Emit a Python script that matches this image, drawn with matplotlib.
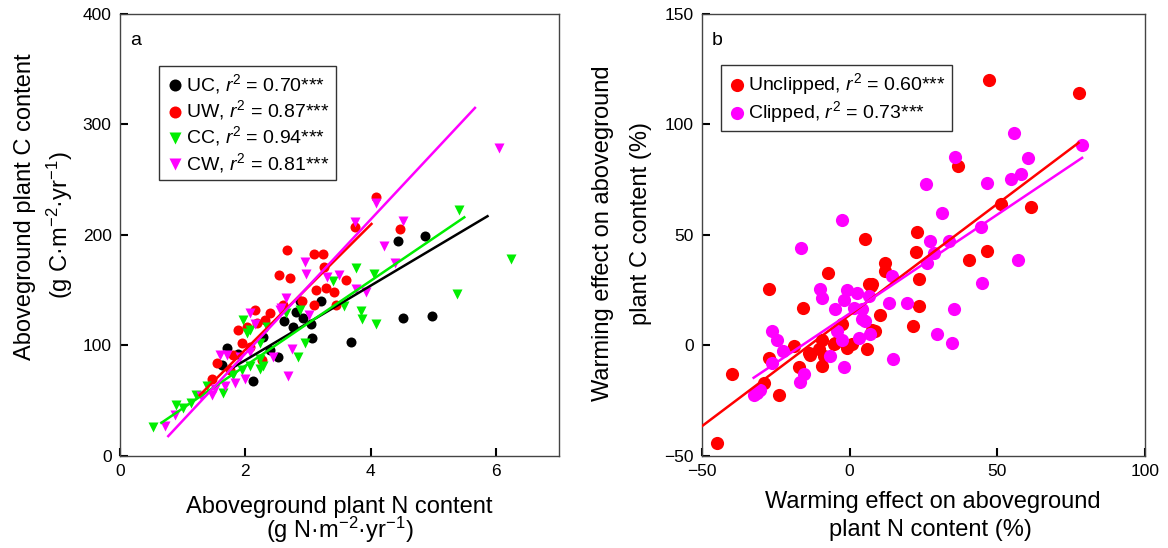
import matplotlib.pyplot as plt
import numpy as np

plt.rcParams['font.family'] = ['Liberation Sans', 'DejaVu Sans']
plt.rcParams['mathtext.fontset'] = 'custom'
plt.rcParams['mathtext.rm'] = 'Liberation Sans'
plt.rcParams['mathtext.it'] = 'Liberation Sans:italic'

# panel a: aboveground N vs C content
uc_x = [1.62, 1.70, 1.88, 2.12, 2.28, 2.40, 2.52, 2.62, 2.76, 2.80, 2.87, 2.92, 3.05, 3.06, 3.20, 3.69, 4.44, 4.51, 4.87, 4.98]
uc_y = [82, 98, 92, 68, 108, 96, 90, 122, 117, 130, 140, 125, 119, 107, 140, 103, 195, 125, 199, 127]

uw_x = [1.46, 1.54, 1.75, 1.80, 1.88, 1.94, 2.02, 2.07, 2.15, 2.18, 2.26, 2.31, 2.39, 2.54, 2.60,
        2.67, 2.71, 2.90, 3.09, 3.24, 3.26, 3.13, 3.28, 3.42, 3.09, 3.45, 3.61, 3.74, 4.09, 4.47]
uw_y = [70, 84, 78, 91, 114, 102, 117, 99, 132, 120, 87, 123, 129, 164, 137,
        186, 161, 140, 183, 183, 171, 150, 152, 148, 137, 137, 159, 207, 234, 205]

cc_x = [0.53, 0.90, 1.01, 1.14, 1.22, 1.38, 1.65, 1.80, 1.94, 1.96, 2.02, 2.07, 2.07, 2.23, 2.23, 2.23,
        2.28, 2.34, 2.65, 2.84, 2.87, 2.95, 3.40, 3.58, 3.77, 3.85, 3.86, 4.05, 4.08, 5.37, 5.41, 6.23]
cc_y = [26, 46, 43, 48, 55, 63, 57, 73, 78, 123, 111, 81, 114, 79, 102, 88,
        81, 117, 129, 90, 132, 102, 158, 136, 170, 131, 124, 165, 119, 147, 223, 178]

cw_x = [0.72, 0.88, 1.30, 1.46, 1.51, 1.59, 1.67, 1.70, 1.83, 1.91, 1.99, 2.07, 2.07, 2.15, 2.44, 2.55, 2.57,
        2.65, 2.68, 2.75, 2.95, 2.97, 3.01, 3.30, 3.49, 3.74, 3.77, 3.93, 4.09, 4.21, 4.39, 4.51, 6.05]
cw_y = [27, 37, 54, 55, 61, 91, 63, 91, 66, 90, 70, 129, 94, 119, 90, 132, 134,
        143, 72, 97, 176, 165, 128, 162, 164, 212, 151, 148, 229, 190, 175, 213, 279]

# fitted lines (end points)
uc_fit_x, uc_fit_y = [1.80, 5.86], [80, 217]
uw_fit_x, uw_fit_y = [1.27, 4.01], [55, 210]
cc_fit_x, cc_fit_y = [0.66, 5.49], [30, 216]
cw_fit_x, cw_fit_y = [0.77, 5.66], [18, 315]

# panel b: warming effects (%)
unc_x = [47.1, 77.5, 36.7, 61.5, 51.4, 5.3, 22.8, 22.6, 46.5, 40.3, 11.9, 12.1, 23.4, 7.6,
         -27.4, -7.4, -15.9, 7.3, 23.4, 21.4, 10.4, 8.7, 5.9, -0.9, -9.4, -10.5, -13.3, -8.8,
         -9.4, -19.0, -27.4, -17.3, -29.1, -24.0, -39.9, -4.8, -2.6, -44.9, 6.4, 7.6, -5.4, 0.8, -13.9]
unc_y = [120, 114.3, 81.4, 62.6, 63.8, 48, 51.3, 42.2, 42.7, 38.9, 37.4, 33.6, 29.9, 27.6,
         25.6, 32.6, 17, 26.8, 17.8, 8.7, 14, 6.5, -1.8, -1.1, 2.7, -1.8, -4.1, -4.8,
         -9.4, -0.3, -5.6, -9.6, -16.9, -22.2, -13.1, 1.2, 9.5, -44, 27.6, 7.2, 0.5, 0.5, -3.3]

clp_x = [55.5, 78.7, 35.8, 60.4, 58.1, 54.8, 46.5, 25.8, 31.3, -2.6, 44.6, 27.3, 33.5, 28.4, 26.2,
         56.9, 44.8, 14.3, -16.4, -9.9, -9.4, -0.9, 2.5, -2.0, 6.4, -4.8, 1.4, 4.2, 13.2, 19.4,
         -26.3, -24.6, -22.4, -26.3, -15.6, -16.7, -31.4, -6.5, -2.0, -2.6, 3.0, 7.0, 14.7,
         4.2, -4.3, 35.2, 29.6, 34.7, -32.5, -30.2, 5.3]
clp_y = [96.2, 90.5, 85.4, 84.9, 77.8, 75.4, 73.6, 73.2, 60, 56.7, 53.5, 47.5, 47.2, 41.9, 37.1,
         38.6, 28.4, 31.4, 44.2, 25.6, 21.6, 25.3, 23.8, 20.8, 22.3, 16.3, 17, 16.3, 19.3, 19.3,
         6.5, 2.7, -2.6, -7.8, -13.1, -16.6, -21.4, -4.8, -9.7, 2.7, 3.5, 5.4, -6,
         11.8, 6.5, 16.3, 5.4, 1.2, -22.2, -20, 11]

unc_fit_x, unc_fit_y = [-50, 77.5], [-36.5, 91.7]
clp_fit_x, clp_fit_y = [-32.5, 78.7], [-14.6, 84.9]

RED = '#ff0000'
GREEN = '#00ee00'
MAG = '#ff00ff'
LAB = 17

fig = plt.figure(figsize=(11.68, 5.48), dpi=100)
ax1 = fig.add_axes([0.1027, 0.1679, 0.3759, 0.8066])
ax2 = fig.add_axes([0.601, 0.1679, 0.3793, 0.8066])

ms = 52
ax1.scatter(uc_x, uc_y, s=ms, c='black', marker='o', lw=0, label='UC, $r^2$ = 0.70***', zorder=3)
ax1.scatter(uw_x, uw_y, s=ms, c=RED, marker='o', lw=0, label='UW, $r^2$ = 0.87***', zorder=3)
ax1.scatter(cc_x, cc_y, s=ms, c=GREEN, marker='v', lw=0, label='CC, $r^2$ = 0.94***', zorder=3)
ax1.scatter(cw_x, cw_y, s=ms, c=MAG, marker='v', lw=0, label='CW, $r^2$ = 0.81***', zorder=3)
ax1.plot(uc_fit_x, uc_fit_y, color='black', lw=1.8, zorder=4)
ax1.plot(cc_fit_x, cc_fit_y, color=GREEN, lw=1.8, zorder=4)
ax1.plot(uw_fit_x, uw_fit_y, color=RED, lw=1.8, zorder=4)
ax1.plot(cw_fit_x, cw_fit_y, color=MAG, lw=1.8, zorder=4)

ax1.set_xlim(0, 7)
ax1.set_ylim(0, 400)
ax1.set_xticks([0, 2, 4, 6])
ax1.set_yticks([0, 100, 200, 300, 400])
ax1.text(0.5, -0.115, 'Aboveground plant N content', transform=ax1.transAxes,
         fontsize=LAB, ha='center', va='center')
ax1.text(0.5, -0.168, '(g N·m$^{-2}$·yr$^{-1}$)', transform=ax1.transAxes,
         fontsize=LAB, ha='center', va='center')
ax1.text(-0.216, 0.565, 'Aboveground plant C content', transform=ax1.transAxes,
         fontsize=LAB, ha='center', va='center', rotation=90)
ax1.text(-0.137, 0.523, '(g C·m$^{-2}$·yr$^{-1}$)', transform=ax1.transAxes,
         fontsize=LAB, ha='center', va='center', rotation=90)
ax1.text(0.023, 0.94, 'a', transform=ax1.transAxes, fontsize=14, va='center')
leg1 = ax1.legend(loc='upper left', bbox_to_anchor=(0.089, 0.882), fontsize=14, handletextpad=0.1,
                  handlelength=1.0, borderpad=0.3, labelspacing=0.12, fancybox=False,
                  edgecolor='#333333', framealpha=1, borderaxespad=0, markerscale=1.2)
leg1.get_frame().set_linewidth(1.0)

ms2 = 90
ax2.scatter(unc_x, unc_y, s=ms2, c=RED, marker='o', lw=0, label='Unclipped, $r^2$ = 0.60***', zorder=3)
ax2.scatter(clp_x, clp_y, s=ms2, c=MAG, marker='o', lw=0, label='Clipped, $r^2$ = 0.73***', zorder=3)
ax2.plot(unc_fit_x, unc_fit_y, color=RED, lw=1.8, zorder=4)
ax2.plot(clp_fit_x, clp_fit_y, color=MAG, lw=1.8, zorder=4)

ax2.set_xlim(-50, 100)
ax2.set_ylim(-50, 150)
ax2.set_xticks([-50, 0, 50, 100])
ax2.set_yticks([-50, 0, 50, 100, 150])
ax2.text(0.52, -0.105, 'Warming effect on aboveground', transform=ax2.transAxes,
         fontsize=LAB, ha='center', va='center')
ax2.text(0.515, -0.168, 'plant N content (%)', transform=ax2.transAxes,
         fontsize=LAB, ha='center', va='center')
ax2.text(-0.2235, 0.505, 'Warming effect on aboveground', transform=ax2.transAxes,
         fontsize=LAB, ha='center', va='center', rotation=90)
ax2.text(-0.138, 0.525, 'plant C content (%)', transform=ax2.transAxes,
         fontsize=LAB, ha='center', va='center', rotation=90)
ax2.text(0.023, 0.94, 'b', transform=ax2.transAxes, fontsize=14, va='center')
leg2 = ax2.legend(loc='upper left', bbox_to_anchor=(0.043, 0.885), fontsize=14, handletextpad=0.1,
                  handlelength=1.0, borderpad=0.3, labelspacing=0.12, fancybox=False,
                  edgecolor='#333333', framealpha=1, borderaxespad=0)
leg2.get_frame().set_linewidth(1.0)

for ax in (ax1, ax2):
    ax.tick_params(direction='in', length=6, width=1.5, labelsize=12.5, top=False, right=False, pad=6)
    for sp in ax.spines.values():
        sp.set_color('#444444')
        sp.set_linewidth(1.0)

fig.savefig('out.png', dpi=100)
